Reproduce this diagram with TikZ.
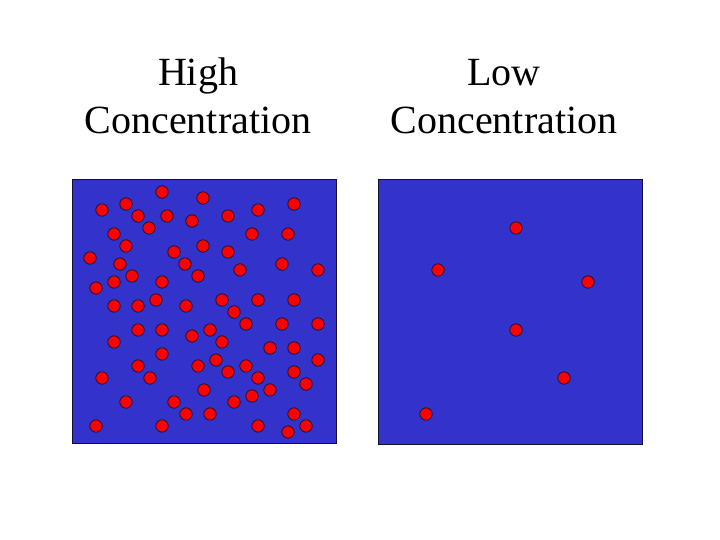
\documentclass[tikz,border=0pt]{standalone}
\usepackage{fontspec}
\setmainfont{Liberation Serif}
\definecolor{boxblue}{HTML}{3333CC}
\definecolor{dotred}{HTML}{FF0000}
\definecolor{edgedark}{HTML}{101030}
\begin{document}
\begin{tikzpicture}[x=1pt,y=-1pt,font=\fontsize{40}{48}\selectfont,
  dot/.style={fill=dotred,draw=edgedark,line width=.7pt},
  chamber/.style={fill=boxblue,draw=edgedark,line width=1pt}]
\useasboundingbox (0,0) rectangle (720,540);
% Titles above the two chambers.
\node[anchor=base] (hightop) at (198,86) {High};
\node[anchor=base] (highbot) at (198,134) {Concentration};
\node[anchor=base] (lowtop) at (504,86) {Low};
\node[anchor=base] (lowbot) at (504,134) {Concentration};
% Chambers.
\draw[chamber] (72,180) rectangle (336,443);
\draw[chamber] (378,180) rectangle (642,444);
% Crowded side: many particles.
\foreach \x/\y in {162/192,203/198,102/210,126/204,138/216,167/216,192/221,149/228,114/234,126/246,
  203/246,174/252,90/258,120/264,185/264,132/276,198/276,96/288,114/282,162/282,
  156/300,114/306,138/306,186/306,294/204,258/210,228/216,252/234,288/234,228/252,
  240/270,282/264,318/270,222/300,258/300,294/300,234/312,138/330,162/330,192/336,
  114/342,162/354,138/366,198/366,102/378,150/378,204/390,126/402,174/402,186/414,
  96/426,162/426,246/324,282/324,318/324,210/330,222/342,270/348,294/348,216/360,
  318/360,246/366,228/372,294/372,258/378,306/384,270/390,252/396,234/402,210/414,
  294/414,258/426,306/426,288/432}
  \draw[dot] (\x,\y) circle (6.2);
% Sparse side: a few particles.
\foreach \x/\y in {516/228,438/270,588/282,516/330,564/378,426/414}
  \draw[dot] (\x,\y) circle (6.2);
\end{tikzpicture}
\end{document}
